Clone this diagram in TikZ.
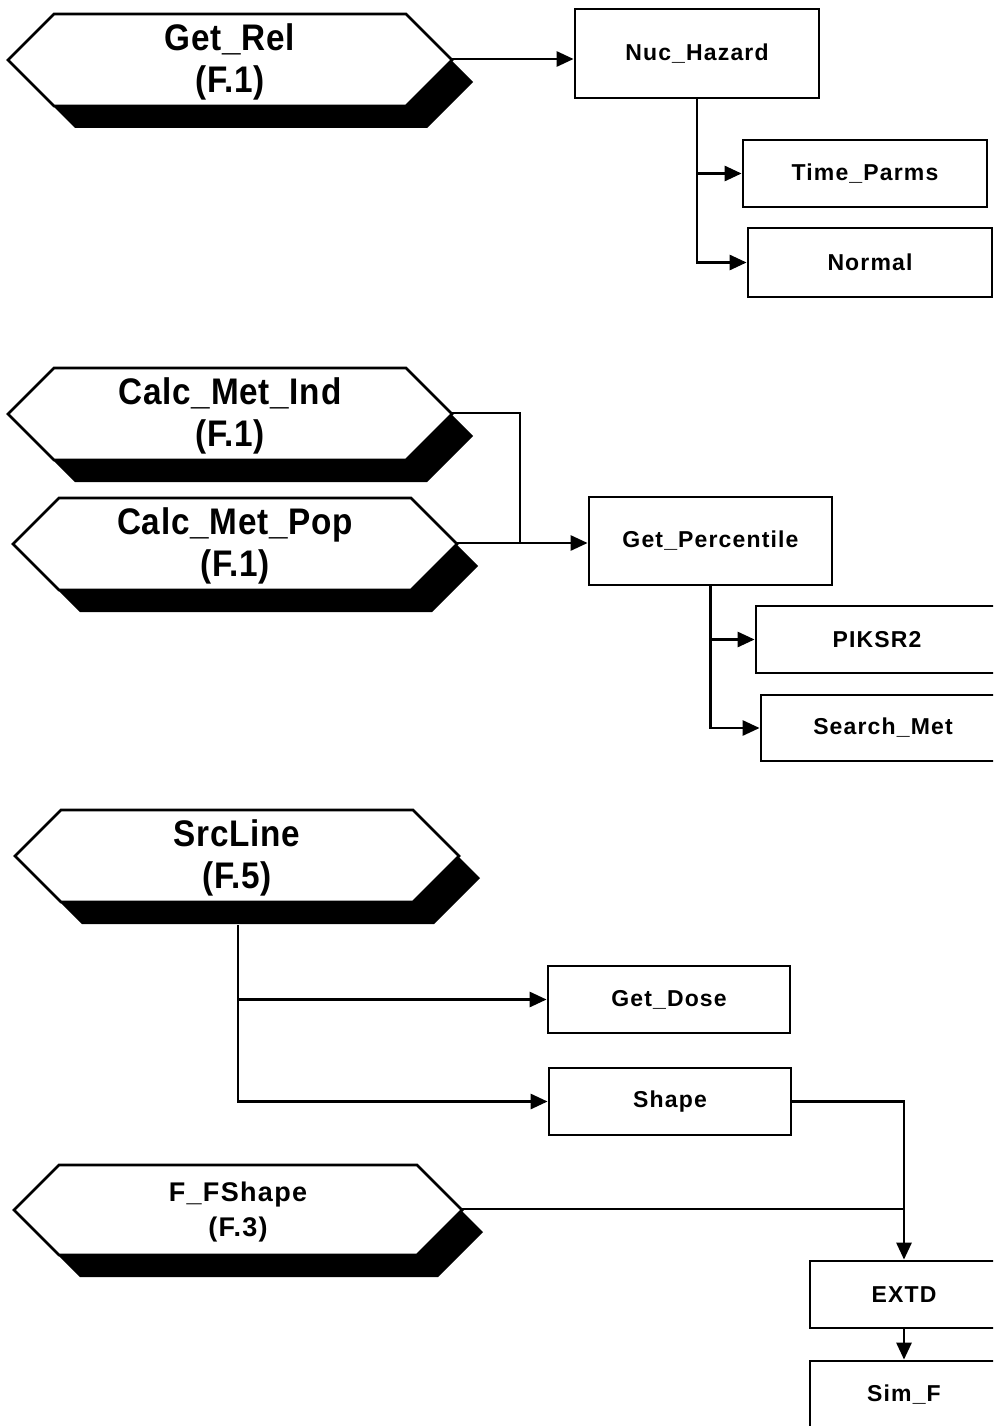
\documentclass[tikz,border=0pt]{standalone}
\usepackage{fontspec}
\setmainfont{Liberation Sans}
\newfontfamily\boxfont{Liberation Sans}[LetterSpace=5]
\newfontfamily\hexfont{Liberation Sans}[FakeStretch=0.9,LetterSpace=2]
\usetikzlibrary{arrows.meta}
\tikzset{
  lw/.style={line width=2.8pt},
  conn/.style={lw,line join=miter},
  arr/.style={conn,-{Triangle[length=17pt,width=15pt]}},
  rbox/.style={draw,lw,fill=white,inner sep=0pt,font=\boxfont\fontsize{23}{27}\selectfont\bfseries},
  hextext/.style={align=center,inner sep=0pt,font=\hexfont\fontsize{37}{42}\selectfont\bfseries},
  hextextsmall/.style={align=center,inner sep=0pt,font=\boxfont\fontsize{27}{35}\selectfont\bfseries}
}
% name, left tip x, mid y, width, half height, text style, text
\newcommand\hexbox[7]{%
  \begin{scope}[shift={(#2,#3)}]
    \fill[black] (21,22) -- ++(#5,-#5) -- ++({#4-2*#5},0) -- ++(#5,#5) -- ++(-#5,#5) -- ++({-(#4-2*#5)},0) -- cycle;
    \filldraw[fill=white,draw=black,lw,line join=miter] (0,0) -- ++(#5,-#5) -- ++({#4-2*#5},0) -- ++(#5,#5) -- ++(-#5,#5) -- ++({-(#4-2*#5)},0) -- cycle;
    \node[#6] (#1) at ({#4/2},2) {#7};
    \coordinate (#1-r) at (#4,-1);
  \end{scope}}
\begin{document}
\begin{tikzpicture}[x=1pt,y=-1pt]
\useasboundingbox (0,0) rectangle (993,1426);
\clip (0,0) rectangle (993,1426);
\fill[white] (0,0) rectangle (993,1426);

% ---------- group 1
\hexbox{getrel}{8}{60}{444}{46}{hextext}{Get\_Rel\\(F.1)}
\node[rbox,minimum width=244pt,minimum height=89pt] (nuc) at (697,53.5) {Nuc\_Hazard};
\node[rbox,minimum width=244pt,minimum height=67pt] (timeparms) at (865,173.5) {Time\_Parms};
\node[rbox,minimum width=244pt,minimum height=69pt] (normal) at (870,262.5) {Normal};
\draw[arr] (getrel-r) -- (getrel-r -| nuc.west);
\draw[arr] (nuc.south) |- (timeparms.west);
\draw[arr] (nuc.south) |- (normal.west);

% ---------- group 2
\hexbox{cmi}{8}{414}{444}{46}{hextext}{Calc\_Met\_Ind\\(F.1)}
\hexbox{cmp}{13}{544}{444}{46}{hextext}{Calc\_Met\_Pop\\(F.1)}
\node[rbox,minimum width=243pt,minimum height=88pt] (getp) at (710.5,541) {Get\_Percentile};
\node[rbox,minimum width=242pt,minimum height=67pt] (piksr) at (877,639.5) {PIKSR2};
\node[rbox,minimum width=244pt,minimum height=66pt] (searchmet) at (883,728) {Search\_Met};
\coordinate (j1) at (520,543);
\draw[conn] (cmi-r) -| (j1);
\draw[arr] (cmp-r) -- (cmp-r -| getp.west);
\draw[arr] (getp.south) |- (piksr.west);
\draw[arr] (getp.south) |- (searchmet.west);

% ---------- group 3
\hexbox{src}{15}{856}{444}{46}{hextext}{SrcLine\\(F.5)}
\hexbox{ff}{14}{1210}{448}{45}{hextextsmall}{F\_FShape\\(F.3)}
\coordinate (srcb) at (238,925);
\node[rbox,minimum width=242pt,minimum height=67pt] (getdose) at (669,999.5) {Get\_Dose};
\node[rbox,minimum width=242pt,minimum height=67pt] (shape) at (670,1101.5) {Shape};
\node[rbox,minimum width=188pt,minimum height=67pt] (extd) at (904,1294.5) {EXTD};
\node[rbox,minimum width=188pt,minimum height=67pt] (simf) at (904,1394.5) {Sim\_F};
\draw[arr] (srcb) |- (getdose.west);
\draw[arr] (srcb) |- (shape.west);
\draw[arr] (shape.east) -| (extd.north);
\draw[conn] (ff-r) -- (ff-r -| extd.north);
\draw[arr] (extd.south) -- (simf.north);
\end{tikzpicture}
\end{document}
